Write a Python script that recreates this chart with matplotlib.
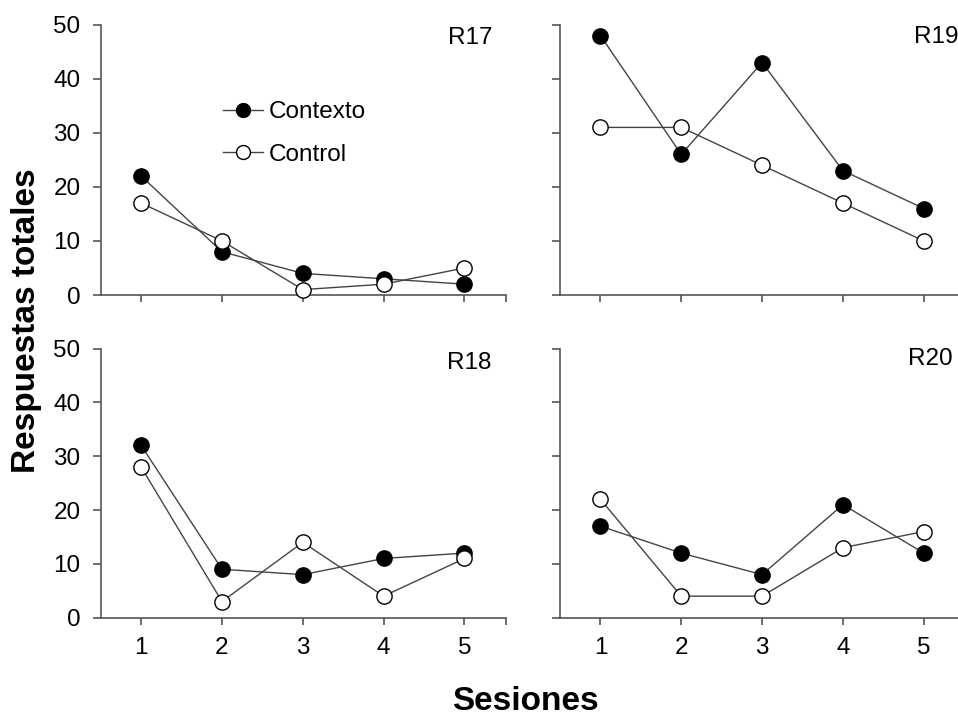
import matplotlib
matplotlib.use("Agg")
import matplotlib.pyplot as plt
from matplotlib.lines import Line2D

plt.rcParams['font.family'] = ['Liberation Sans', 'DejaVu Sans']

sessions = [1, 2, 3, 4, 5]
subjects = ["R17", "R19", "R18", "R20"]
contexto = {
    "R17": [22, 8, 4, 3, 2],
    "R19": [48, 26, 43, 23, 16],
    "R18": [32, 9, 8, 11, 12],
    "R20": [17, 12, 8, 21, 12],
}
control = {
    "R17": [17, 10, 1, 2, 5],
    "R19": [31, 31, 24, 17, 10],
    "R18": [28, 3, 14, 4, 11],
    "R20": [22, 4, 4, 13, 16],
}
yticks = [0, 10, 20, 30, 40, 50]

W, H = 958, 716
fig = plt.figure(figsize=(W / 100, H / 100), dpi=100)

def fx(px):
    return px / W

def fy(py):
    return 1 - py / H

# panel rectangles in pixels: left, right, top, bottom
rects = {
    "R17": (100.7, 505.7, 24.7, 295.0),
    "R19": (560.0, 965.0, 24.7, 295.0),
    "R18": (100.7, 505.7, 348.5, 617.7),
    "R20": (560.0, 965.0, 348.5, 617.7),
}
label_pos = {
    "R17": (492, 38),
    "R19": (958, 37),
    "R18": (491, 363),
    "R20": (953, 359),
}

line_color = "#444444"
spine_color = "#555555"
fs = 17.5
ms = 11
axes = {}
for s in subjects:
    l, r, t, b = rects[s]
    ax = fig.add_axes([fx(l), fy(b), fx(r - l), (b - t) / H])
    axes[s] = ax
    xmin, xmax = 0.5, 5.51
    ax.set_xlim(xmin, xmax)
    ax.set_ylim(0, 50)
    ax.plot(sessions, contexto[s], '-', color=line_color, lw=1.0, marker='o',
            ms=ms, mfc='black', mec='black', mew=1.0, zorder=3, clip_on=False,
            label='Contexto')
    ax.plot(sessions, control[s], '-', color=line_color, lw=1.0, marker='o',
            ms=ms, mfc='white', mec='black', mew=1.0, zorder=3, clip_on=False,
            label='Control')
    for side in ['top', 'right']:
        ax.spines[side].set_visible(False)
    for side in ['left', 'bottom']:
        ax.spines[side].set_color(spine_color)
        ax.spines[side].set_linewidth(1.2)
    ax.set_yticks(yticks)
    ax.set_xticks(sessions + [xmax])
    ax.tick_params(axis='x', direction='out', length=5, width=1.2,
                   color=spine_color, labelsize=fs, pad=9)
    ax.tick_params(axis='y', direction='out', length=6, width=1.2,
                   color=spine_color, labelsize=fs, pad=8.5)
    top = s in ("R17", "R19")
    left = s in ("R17", "R18")
    if top:
        ax.set_xticklabels([''] * 6)
    else:
        ax.set_xticklabels([str(v) for v in sessions] + [''])
    if left:
        ax.set_yticklabels([str(v) for v in yticks])
    else:
        ax.set_yticklabels([''] * len(yticks))
    px, py = label_pos[s]
    fig.text(fx(px), fy(py), s, ha='right', va='center', fontsize=fs)

handles = [
    Line2D([], [], color=line_color, lw=1.0, marker='o', ms=10, mfc='black',
           mec='black', mew=1.0),
    Line2D([], [], color=line_color, lw=1.0, marker='o', ms=10, mfc='white',
           mec='black', mew=1.0),
]
fig.legend(handles, ['Contexto', 'Control'], loc='upper left',
           bbox_to_anchor=(fx(223), fy(101)), bbox_transform=fig.transFigure,
           frameon=False, fontsize=fs, handlelength=1.63, handletextpad=0.25,
           labelspacing=0.85, borderpad=0, borderaxespad=0)

fig.text(fx(27), fy(321), 'Respuestas totales', rotation=90, ha='center',
         va='center', fontsize=24, fontweight='bold')
fig.text(fx(525), fy(701), 'Sesiones', ha='center', va='center', fontsize=24,
         fontweight='bold')

fig.savefig('out.png', dpi=100)
